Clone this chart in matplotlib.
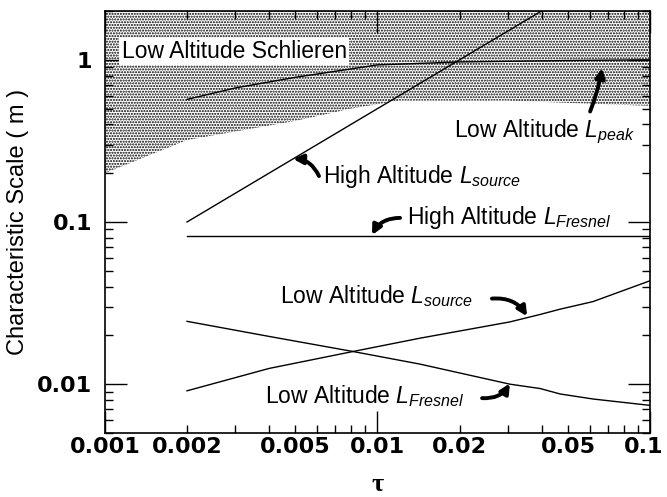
import matplotlib
matplotlib.use("Agg")
import matplotlib.pyplot as plt
from matplotlib.transforms import ScaledTranslation

plt.rcParams['font.family'] = ['Liberation Sans', 'DejaVu Sans']
plt.rcParams['mathtext.fontset'] = 'custom'
plt.rcParams['mathtext.rm'] = 'Liberation Sans'
plt.rcParams['mathtext.it'] = 'Liberation Sans:italic'
plt.rcParams['hatch.linewidth'] = 1.0

# high altitude curves
tau_high = [0.002, 0.04]
high_source = [0.1, 2.0]
tau_high_fresnel = [0.002, 0.1]
high_fresnel = [0.082, 0.082]

# low altitude peak scale
tau_peak = [0.002, 0.003, 0.004, 0.005, 0.01, 0.02, 0.05, 0.1]
low_peak = [0.57, 0.67, 0.73, 0.78, 0.93, 0.97, 0.99, 1.0]

# low altitude source / Fresnel scales
tau_low = [0.002, 0.004, 0.00813, 0.0143, 0.0306, 0.0395, 0.0468, 0.0618, 0.1]
low_source = [0.0091, 0.0125, 0.0159, 0.0192, 0.0242, 0.0269, 0.0290, 0.0323, 0.0434]
low_fresnel = [0.0244, 0.0197, 0.0159, 0.0133, 0.0100, 0.0094, 0.0087, 0.0081, 0.0074]

# lower edge of the schlieren band
tau_band = [0.001, 0.002, 0.005, 0.008, 0.012, 0.03, 0.1]
band_lower = [0.2, 0.32, 0.42, 0.5, 0.56, 0.56, 0.52]
band_upper = [2.0] * len(tau_band)

# tick positions / labels
x_major = [0.001, 0.01, 0.1]
x_major_labels = ['0.001', '0.01', '0.1']
x_minor = [0.002, 0.003, 0.004, 0.005, 0.006, 0.007, 0.008, 0.009,
           0.02, 0.03, 0.04, 0.05, 0.06, 0.07, 0.08, 0.09]
x_minor_labels = ['0.002', '', '', '0.005', '', '', '', '',
                  '0.02', '', '', '0.05', '', '', '', '']
y_major = [0.01, 0.1, 1]
y_major_labels = ['0.01', '0.1', '1']
y_minor = [0.005, 0.006, 0.007, 0.008, 0.009,
           0.02, 0.03, 0.04, 0.05, 0.06, 0.07, 0.08, 0.09,
           0.2, 0.3, 0.4, 0.5, 0.6, 0.7, 0.8, 0.9, 2.0]

fig = plt.figure(figsize=(6.67, 4.97), dpi=100)
ax = fig.add_axes([0.1574, 0.1288, 0.8171, 0.8491])
ax.set_xscale('log')
ax.set_yscale('log')
ax.set_xlim(0.001, 0.1)
ax.set_ylim(0.005, 2.0)

# stippled schlieren region
ax.fill_between(tau_band, band_lower, band_upper, facecolor='none',
                edgecolor='k', linewidth=0, hatch='......', zorder=1)

lw = 1.0
ax.plot(tau_high, high_source, color='k', lw=lw, zorder=3)
ax.plot(tau_high_fresnel, high_fresnel, color='k', lw=lw, zorder=3)
ax.plot(tau_peak, low_peak, color='k', lw=lw, zorder=3)
ax.plot(tau_low, low_source, color='k', lw=lw, zorder=3)
ax.plot(tau_low, low_fresnel, color='k', lw=lw, zorder=3)

fs = 16.5
ax.text(0.00115, 1.13, 'Low Altitude Schlieren', fontsize=fs, ha='left',
        va='center', zorder=4,
        bbox=dict(facecolor='white', edgecolor='none', pad=1.5))
ax.text(0.0881, 0.36, r'Low Altitude $L_{peak}$', fontsize=fs, ha='right',
        va='center', zorder=4)
ax.text(0.0063, 0.19, r'High Altitude $L_{source}$', fontsize=fs, ha='left',
        va='center', zorder=4)
ax.text(0.0128, 0.106, r'High Altitude $L_{Fresnel}$', fontsize=fs,
        ha='left', va='center', zorder=4)
ax.text(0.0044, 0.0347, r'Low Altitude $L_{source}$', fontsize=fs,
        ha='left', va='center', zorder=4)
ax.text(0.00387, 0.0084, r'Low Altitude $L_{Fresnel}$', fontsize=fs,
        ha='left', va='center', zorder=4)

def arrow(head, tail, rad):
    ax.annotate('', xy=head, xytext=tail, zorder=5,
                arrowprops=dict(arrowstyle='-|>', color='k', lw=2.8,
                                mutation_scale=14, shrinkA=0, shrinkB=0,
                                connectionstyle='arc3,rad=%s' % rad))

arrow((0.0667, 0.89), (0.0603, 0.48), 0.05)
arrow((0.0049, 0.245), (0.0061, 0.192), 0.3)
arrow((0.00955, 0.083), (0.0121, 0.106), 0.3)
arrow((0.0354, 0.0262), (0.0263, 0.0337), -0.3)
arrow((0.0306, 0.0101), (0.0242, 0.0082), 0.3)

for s in ax.spines.values():
    s.set_linewidth(1.2)

ax.set_xticks(x_major, labels=x_major_labels)
ax.set_xticks(x_minor, labels=x_minor_labels, minor=True)
ax.set_yticks(y_major, labels=y_major_labels)
ax.set_yticks(y_minor, minor=True)
ax.yaxis.set_minor_formatter(plt.NullFormatter())

ax.tick_params(which='both', direction='in', top=True, right=True,
               width=1.0, labelsize=16)
ax.tick_params(which='major', length=16)
ax.tick_params(which='minor', length=6)
ax.tick_params(axis='x', which='both', pad=3)
ax.tick_params(axis='y', which='both', pad=9)
for lab in ax.get_xticklabels(which='both') + ax.get_yticklabels():
    lab.set_fontfamily('DejaVu Sans')
    lab.set_fontweight('bold')

# keep the last x label inside the figure
last = ax.get_xticklabels()[-1]
last.set_transform(last.get_transform()
                   + ScaledTranslation(-6 / 100, 0, fig.dpi_scale_trans))

ax.set_ylabel('Characteristic Scale ( m )', fontsize=17, labelpad=6)
ax.set_xlabel('τ', fontsize=19, fontweight='bold', family='Liberation Serif')
ax.xaxis.set_label_coords(0.5, -0.123)
ax.xaxis.label.set_va('center')

fig.savefig('out.png', dpi=100)
